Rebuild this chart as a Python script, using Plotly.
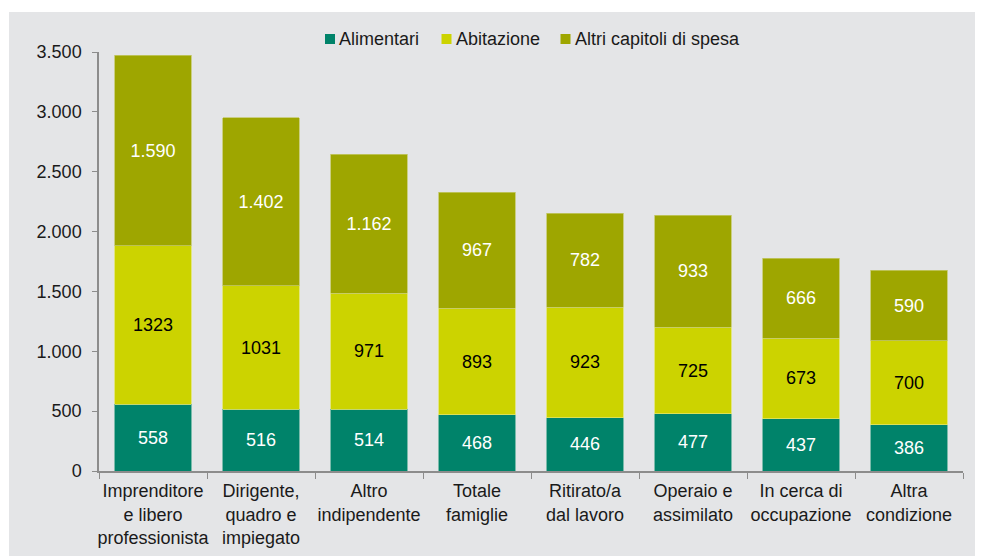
import plotly.graph_objects as go

categories = ["Imprenditore<br>e libero<br>professionista", "Dirigente,<br>quadro e<br>impiegato",
              "Altro<br>indipendente", "Totale<br>famiglie", "Ritirato/a<br>dal lavoro",
              "Operaio e<br>assimilato", "In cerca di<br>occupazione", "Altra<br>condizione"]
series_names = ["Alimentari", "Abitazione", "Altri capitoli di spesa"]
alimentari = [558, 516, 514, 468, 446, 477, 437, 386]
abitazione = [1323, 1031, 971, 893, 923, 725, 673, 700]
altri = [1590, 1402, 1162, 967, 782, 933, 666, 590]
alimentari_labels = ["558", "516", "514", "468", "446", "477", "437", "386"]
abitazione_labels = ["1323", "1031", "971", "893", "923", "725", "673", "700"]
altri_labels = ["1.590", "1.402", "1.162", "967", "782", "933", "666", "590"]
tick_vals = [0, 500, 1000, 1500, 2000, 2500, 3000, 3500]
tick_text = ["0", "500", "1.000", "1.500", "2.000", "2.500", "3.000", "3.500"]

FONT = "Arial"
BG = "#e4e5e7"
COLORS = ["#00836a", "#ccd300", "#9ea600"]
EDGES = ["#5fb09c", "#e0e46a", "#c3c86a"]
TXT = ["white", "black", "white"]

fig = go.Figure()
for name, vals, labels, col, edge, tc in zip(series_names, [alimentari, abitazione, altri],
                                             [alimentari_labels, abitazione_labels, altri_labels],
                                             COLORS, EDGES, TXT):
    fig.add_trace(go.Bar(name=name, x=categories, y=vals, text=labels,
                         textposition="inside", insidetextanchor="middle",
                         textfont=dict(color=tc, size=18, family=FONT),
                         marker=dict(color=col, line=dict(color=edge, width=0.8)),
                         showlegend=False))

# the page puts the figure 8px in from the top-left corner of the 983x556 window
OFF = 8
SCREEN_W, SCREEN_H = 983, 556
W, H = SCREEN_W - OFF, SCREEN_H - OFF
L, R, T, B = 99 - OFF, W - (963 - OFF), 52 - OFF, H - (471 - OFF)
PW, PH = W - L - R, H - T - B

def px_x(p):
    return (p - OFF - L) / PW

def px_y(p):
    return (H - B - (p - OFF)) / PH

shapes = [dict(type="rect", xref="paper", yref="paper",
               x0=px_x(9), x1=px_x(SCREEN_W + 2), y0=px_y(SCREEN_H + 2), y1=px_y(12),
               fillcolor=BG, line=dict(width=0), layer="below")]
annotations = []
legend_sq_x = [325, 441.5, 560.5]
legend_txt_x = [337, 453.5, 572.5]
for name, col, sx, tx in zip(series_names, COLORS, legend_sq_x, legend_txt_x):
    shapes.append(dict(type="rect", xref="paper", yref="paper",
                       x0=px_x(sx), x1=px_x(sx + 10), y0=px_y(44), y1=px_y(34),
                       fillcolor=col, line=dict(width=0)))
    annotations.append(dict(text=name, xref="paper", yref="paper", x=px_x(tx), y=px_y(39),
                            xanchor="left", yanchor="middle", showarrow=False,
                            font=dict(size=18, family=FONT, color="#1a1a1a")))

fig.update_layout(
    barmode="stack",
    width=W, height=H,
    margin=dict(l=L, r=R, t=T, b=B, autoexpand=False),
    paper_bgcolor="white",
    plot_bgcolor=BG,
    bargap=0.29,
    uniformtext=dict(mode="show", minsize=10),
    font=dict(family=FONT, size=18, color="#1a1a1a"),
    showlegend=False,
    shapes=shapes,
    annotations=annotations,
    xaxis=dict(showline=True, linecolor="#8c8c8c", linewidth=1.5, automargin=False,
               ticks="outside", tickson="boundaries", ticklen=6, tickcolor="#8c8c8c",
               tickangle=0, ticklabelstandoff=3,
               tickfont=dict(size=18, family=FONT, color="#1a1a1a"),
               showgrid=False),
    yaxis=dict(range=[0, 3500], tickvals=tick_vals, ticktext=tick_text, automargin=False,
               showline=True, linecolor="#8c8c8c", linewidth=1.5,
               ticks="outside", ticklen=5, tickcolor="#8c8c8c", ticklabelstandoff=7,
               tickfont=dict(size=18, family=FONT, color="#1a1a1a"),
               showgrid=False, zeroline=False),
)

fig.write_html("out.html")
